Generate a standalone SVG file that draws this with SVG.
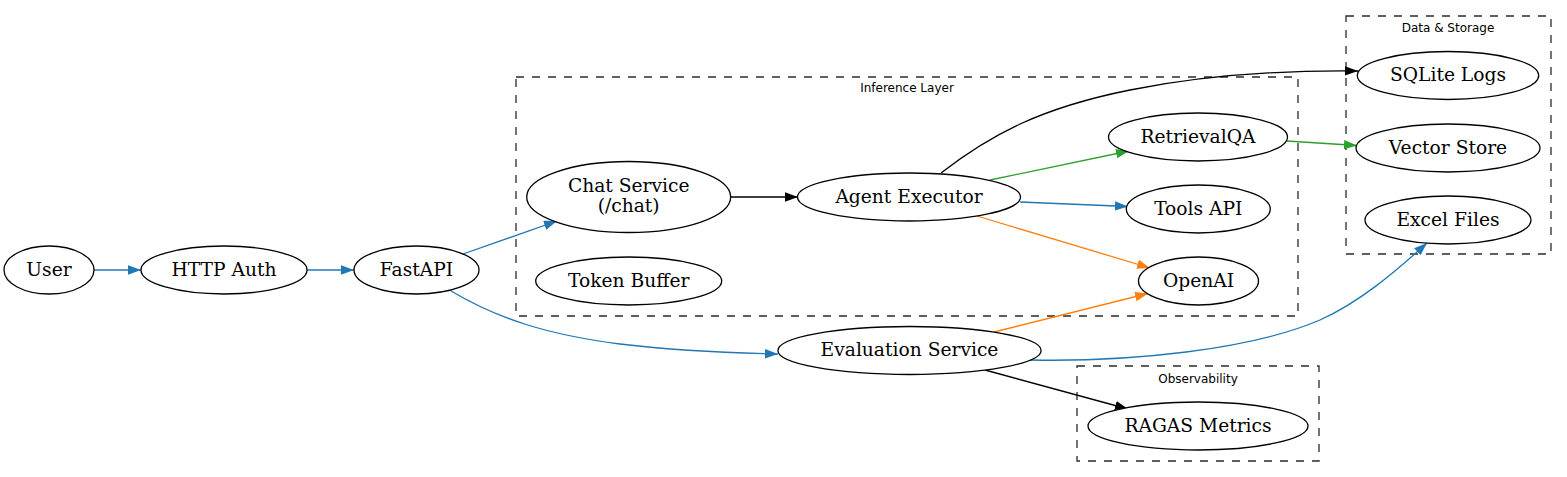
<svg xmlns="http://www.w3.org/2000/svg" width="1567" height="477" viewBox="0 0 1567 477">
<style>
.bg{fill:#ffffff}
.cluster{fill:none;stroke:#2a2a2a;stroke-width:1.3;stroke-dasharray:8,8}
.clabel{font-family:"DejaVu Sans",sans-serif;font-size:12px;fill:#000;text-anchor:middle}
.node ellipse{fill:#ffffff;stroke:#000;stroke-width:1.3}
.node text{font-family:"DejaVu Serif","Liberation Serif",serif;font-size:18.67px;fill:#000;text-anchor:middle}
.e{fill:none;stroke-width:1.3}
.blue{stroke:#1f77b4}
.green{stroke:#2ca02c}
.orange{stroke:#ff7f0e}
.black{stroke:#000}
</style>
<defs>
<marker id="ab" markerUnits="userSpaceOnUse" markerWidth="14" markerHeight="10" refX="13" refY="4.7" orient="auto"><path d="M0,0 L13,4.7 L0,9.4 z" fill="#1f77b4"/></marker>
<marker id="ag" markerUnits="userSpaceOnUse" markerWidth="14" markerHeight="10" refX="13" refY="4.7" orient="auto"><path d="M0,0 L13,4.7 L0,9.4 z" fill="#2ca02c"/></marker>
<marker id="ao" markerUnits="userSpaceOnUse" markerWidth="14" markerHeight="10" refX="13" refY="4.7" orient="auto"><path d="M0,0 L13,4.7 L0,9.4 z" fill="#ff7f0e"/></marker>
<marker id="ak" markerUnits="userSpaceOnUse" markerWidth="14" markerHeight="10" refX="13" refY="4.7" orient="auto"><path d="M0,0 L13,4.7 L0,9.4 z" fill="#000"/></marker>
</defs>
<rect class="bg" x="0" y="0" width="1567" height="477"/>

<g id="cluster_inference">
<rect class="cluster" x="516" y="77" width="782" height="239"/>
<text class="clabel" x="907" y="92">Inference Layer</text>
</g>
<g id="cluster_data">
<rect class="cluster" x="1346" y="16" width="205" height="238"/>
<text class="clabel" x="1448" y="32">Data &amp; Storage</text>
</g>
<g id="cluster_observability">
<rect class="cluster" x="1077" y="366" width="242" height="95"/>
<text class="clabel" x="1198" y="383">Observability</text>
</g>

<g id="connectors">
<path class="e blue" d="M94,270 L141,270" marker-end="url(#ab)"/>
<path class="e blue" d="M307,270 L354,270" marker-end="url(#ab)"/>
<path class="e blue" d="M463,254 L557,221" marker-end="url(#ab)"/>
<path class="e blue" d="M451,291 C500,320 550,335 620,344 C680,351 730,353 778,354" marker-end="url(#ab)"/>
<path class="e black" d="M731,197 L798,197" marker-end="url(#ak)"/>
<path class="e green" d="M990,180 L1129,151" marker-end="url(#ag)"/>
<path class="e blue" d="M1020,202 L1128,206.5" marker-end="url(#ab)"/>
<path class="e orange" d="M977,216 L1150,268" marker-end="url(#ao)"/>
<path class="e black" d="M941,173 C990,135 1040,108 1130,90 C1200,76 1270,70 1358,71" marker-end="url(#ak)"/>
<path class="e green" d="M1287,141 L1357,145.5" marker-end="url(#ag)"/>
<path class="e orange" d="M994,332 L1148,293.5" marker-end="url(#ao)"/>
<path class="e black" d="M985,370 L1128,409" marker-end="url(#ak)"/>
<path class="e blue" d="M1030,360 C1130,362 1250,350 1320,320 C1360,302 1395,272 1427,243" marker-end="url(#ab)"/>
</g>

<g id="node_user" class="node"><ellipse cx="49" cy="270" rx="45" ry="24"/><text x="49" y="275.5">User</text></g>
<g id="node_http_auth" class="node"><ellipse cx="224" cy="270" rx="83" ry="24"/><text x="224" y="275.5">HTTP Auth</text></g>
<g id="node_fastapi" class="node"><ellipse cx="416.5" cy="270" rx="62.5" ry="24"/><text x="416.5" y="275.5">FastAPI</text></g>
<g id="node_chat_service" class="node"><ellipse cx="628.7" cy="197" rx="102" ry="35.5"/><text x="628.7" y="192">Chat Service</text><text x="628.7" y="212">(/chat)</text></g>
<g id="node_token_buffer" class="node"><ellipse cx="628.7" cy="281" rx="93" ry="24"/><text x="628.7" y="286.5">Token Buffer</text></g>
<g id="node_agent_executor" class="node"><ellipse cx="909" cy="197" rx="111.5" ry="24"/><text x="909" y="202.5">Agent Executor</text></g>
<g id="node_retrievalqa" class="node"><ellipse cx="1198" cy="137" rx="89.5" ry="24"/><text x="1198" y="142.5">RetrievalQA</text></g>
<g id="node_tools_api" class="node"><ellipse cx="1198.3" cy="209" rx="72" ry="24"/><text x="1198.3" y="214.5">Tools API</text></g>
<g id="node_openai" class="node"><ellipse cx="1198.5" cy="281" rx="60" ry="24"/><text x="1198.5" y="286.5">OpenAI</text></g>
<g id="node_sqlite_logs" class="node"><ellipse cx="1448" cy="75.5" rx="90.7" ry="24"/><text x="1448" y="81">SQLite Logs</text></g>
<g id="node_vector_store" class="node"><ellipse cx="1448" cy="148" rx="92" ry="24"/><text x="1448" y="153.5">Vector Store</text></g>
<g id="node_excel_files" class="node"><ellipse cx="1448" cy="220" rx="83" ry="24"/><text x="1448" y="225.5">Excel Files</text></g>
<g id="node_evaluation_service" class="node"><ellipse cx="909.5" cy="350.5" rx="131.6" ry="24"/><text x="909.5" y="356">Evaluation Service</text></g>
<g id="node_ragas_metrics" class="node"><ellipse cx="1198" cy="426" rx="110" ry="24"/><text x="1198" y="431.5">RAGAS Metrics</text></g>
</svg>
